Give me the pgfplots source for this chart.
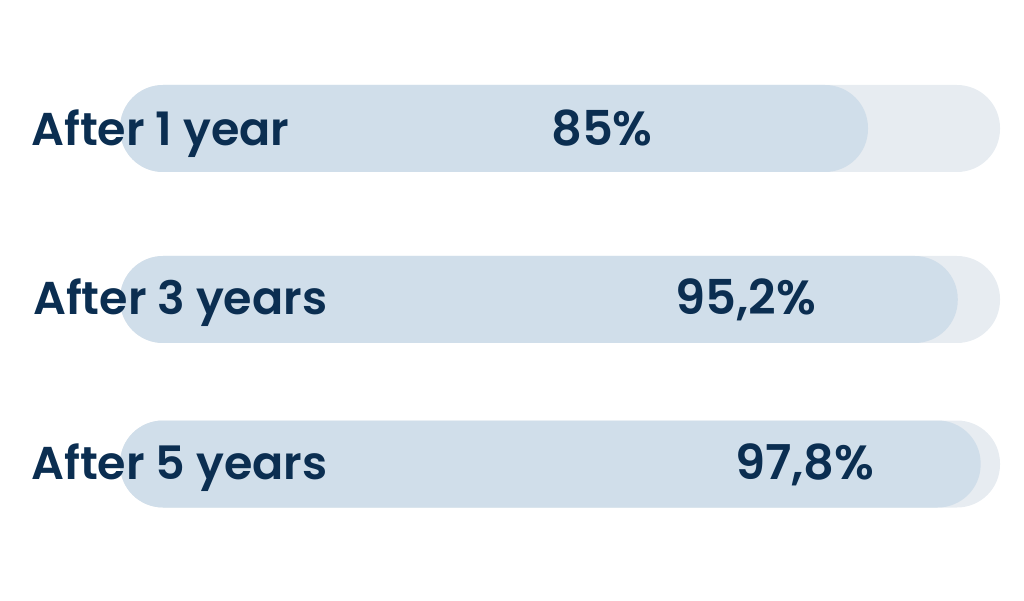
\documentclass[border=0pt]{standalone}
\usepackage{pgfplots}
\pgfplotsset{compat=1.18}
\usepackage{fontspec}
\setmainfont{Poppins}[BoldFont={Poppins SemiBold}]
\definecolor{navy}{HTML}{0B2E51}
\definecolor{barfg}{HTML}{D0DEEA}
\definecolor{barbg}{HTML}{E7ECF1}
\begin{document}
\begin{tikzpicture}
\begin{axis}[
  scale only axis, width=1024pt, height=600pt,
  xmin=-13.636, xmax=102.727, ymin=0, ymax=600,
  hide axis, clip=false,
  xbar, bar width=87, bar shift=0pt,
]
\path (rel axis cs:0,0) rectangle (rel axis cs:1,1);
\addplot[fill=barbg, draw=none, rounded corners=43pt] coordinates {(100,471.5) (100,300.5) (100,136)};
\addplot[fill=barfg, draw=none, rounded corners=43pt] coordinates {(85,471.5) (95.2,300.5) (97.8,136)};
\begin{scope}[every node/.style={text=navy, font=\fontsize{46}{54}\selectfont\bfseries, inner sep=0pt}]
\node[anchor=base west] at (axis cs:-10.1,454) {After 1 year};
\node[anchor=base west] at (axis cs:-9.9,285) {After 3 years};
\node[anchor=base west] at (axis cs:-10.1,121) {After 5 years};
\end{scope}
\begin{scope}[every node/.style={text=navy, font=\fontsize{48}{54}\selectfont\bfseries, inner sep=0pt}]
\node[anchor=base] at (axis cs:54.77,454) {85\%};
\node[anchor=base] at (axis cs:71.14,285) {95,2\%};
\node[anchor=base] at (axis cs:77.84,121) {97,8\%};
\end{scope}
\end{axis}
\end{tikzpicture}
\end{document}
